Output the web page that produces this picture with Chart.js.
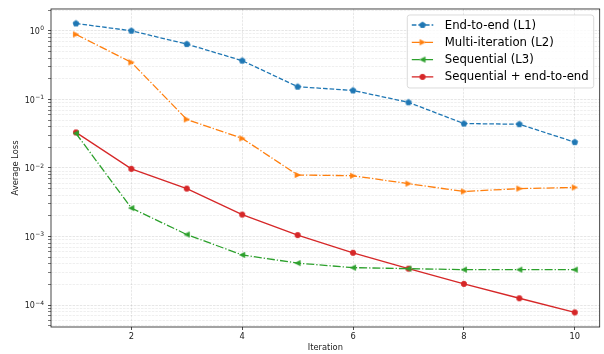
<!DOCTYPE html>
<html lang="en">
<head>
    <meta charset="UTF-8">
    <title>Average Loss per Iteration</title>
    <script src="https://cdn.jsdelivr.net/npm/chart.js"></script>
    <style>
        html, body { margin: 0; padding: 0; background: #fff; }
        #wrap { width: 604px; height: 354px; }
    </style>
</head>
<body>
<div id="wrap">
    <canvas id="lossChart" width="604" height="354"></canvas>
</div>
<script>
  // values (log y axis)
  const iterations = [1, 2, 3, 4, 5, 6, 7, 8, 9, 10];
  const endToEnd = [1.28, 1.0, 0.64, 0.367, 0.153, 0.135, 0.0905, 0.0444, 0.0434, 0.0238];
  const multiIteration = [0.885, 0.347, 0.051, 0.027, 0.0079, 0.0077, 0.0059, 0.00454, 0.0050, 0.0052];
  const sequential = [0.032, 0.0026, 0.00107, 0.00054, 0.00041, 0.000352, 0.00034, 0.000329, 0.000329, 0.000329];
  const sequentialEndToEnd = [0.033, 0.0097, 0.0050, 0.00209, 0.00105, 0.00058, 0.00034, 0.000204, 0.000126, 0.0000783];

  const seriesLabels = ['End-to-end (L1)', 'Multi-iteration (L2)', 'Sequential (L3)', 'Sequential + end-to-end'];
  const xTicks = [2, 4, 6, 8, 10];

  const FONT = 'DejaVu Sans';
  Chart.defaults.font.family = FONT;
  Chart.defaults.color = '#222';

  function makeMarker(shape, color) {
    const c = document.createElement('canvas');
    c.width = 10; c.height = 10;
    const g = c.getContext('2d');
    g.fillStyle = color;
    g.strokeStyle = color;
    g.lineWidth = 0.8;
    g.translate(5, 5);
    g.beginPath();
    if (shape === 'circle') {
      g.arc(0, 0, 2.7, 0, Math.PI * 2);
    } else if (shape === 'pentagon') {
      for (let i = 0; i < 5; i++) {
        const a = -Math.PI / 2 + i * 2 * Math.PI / 5;
        const px = 3.1 * Math.cos(a), py = 3.1 * Math.sin(a);
        if (i === 0) g.moveTo(px, py); else g.lineTo(px, py);
      }
    } else if (shape === 'right') {
      g.moveTo(2.6, 0); g.lineTo(-2.6, -2.6); g.lineTo(-2.6, 2.6);
    } else if (shape === 'left') {
      g.moveTo(-2.6, 0); g.lineTo(2.6, -2.6); g.lineTo(2.6, 2.6);
    }
    g.closePath();
    g.fill();
    g.stroke();
    return c;
  }

  function pts(values) {
    return iterations.map((x, i) => ({ x: x, y: values[i] }));
  }

  const blue = '#1f77b4', orange = '#ff7f0e', green = '#2ca02c', red = '#d62728';
  const dashed = [4.6, 2.0];
  const dashDot = [8, 2, 1.25, 2];

  const datasets = [
    { label: seriesLabels[0], data: pts(endToEnd), borderColor: blue, borderDash: dashed, pointStyle: makeMarker('pentagon', blue) },
    { label: seriesLabels[1], data: pts(multiIteration), borderColor: orange, borderDash: dashDot, pointStyle: makeMarker('right', orange) },
    { label: seriesLabels[2], data: pts(sequential), borderColor: green, borderDash: dashDot, pointStyle: makeMarker('left', green) },
    { label: seriesLabels[3], data: pts(sequentialEndToEnd), borderColor: red, borderDash: [], pointStyle: makeMarker('circle', red) }
  ].map(d => Object.assign(d, {
    borderWidth: 1.3,
    tension: 0,
    fill: false,
    pointRadius: 3,
    pointHoverRadius: 3
  }));

  function isDecade(v) {
    const l = Math.log10(v);
    return Math.abs(l - Math.round(l)) < 1e-9;
  }

  // box round the plot, like matplotlib spines
  const frame = {
    id: 'frame',
    afterDatasetsDraw(chart) {
      const { ctx, chartArea: a } = chart;
      ctx.save();
      ctx.strokeStyle = '#1a1a1a';
      ctx.lineWidth = 0.8;
      ctx.strokeRect(a.left, a.top, a.right - a.left, a.bottom - a.top);
      ctx.restore();
    }
  };

  // 10^k tick labels with a raised exponent, placed by the y scale
  const powerLabels = {
    id: 'powerLabels',
    afterDraw(chart) {
      const { ctx } = chart;
      const s = chart.scales.y;
      ctx.save();
      ctx.fillStyle = '#222';
      ctx.textBaseline = 'alphabetic';
      ctx.textAlign = 'left';
      s.ticks.forEach(t => {
        if (!isDecade(t.value)) return;
        const y = s.getPixelForValue(t.value);
        const exp = String(Math.round(Math.log10(t.value))).replace('-', '\u2212');
        ctx.font = '6px "' + FONT + '"';
        const ew = ctx.measureText(exp).width;
        ctx.font = '8px "' + FONT + '"';
        const bw = ctx.measureText('10').width;
        const xr = s.right - 3 - 4;
        ctx.fillText('10', xr - ew - bw - 0.3, y + 3.2);
        ctx.font = '6px "' + FONT + '"';
        ctx.fillText(exp, xr - ew, y - 0.4);
      });
      ctx.restore();
    }
  };

  // legend drawn in the upper right of the plot area
  const legendBox = {
    id: 'legendBox',
    afterDraw(chart) {
      const { ctx, chartArea: a } = chart;
      const fs = 11.7;
      ctx.save();
      ctx.font = fs + 'px "' + FONT + '"';
      let maxW = 0;
      chart.data.datasets.forEach(d => { maxW = Math.max(maxW, ctx.measureText(d.label).width); });
      const boxW = 4.5 + 21.5 + 11.5 + maxW + 5;
      const boxH = 73;
      const right = a.right - 6, top = a.top + 6;
      const left = right - boxW;
      ctx.beginPath();
      ctx.roundRect(left, top, boxW, boxH, 2.5);
      ctx.fillStyle = 'rgba(255,255,255,0.8)';
      ctx.fill();
      ctx.strokeStyle = '#d0d0d0';
      ctx.lineWidth = 0.8;
      ctx.stroke();
      chart.data.datasets.forEach((d, i) => {
        const cy = top + 10 + i * 17.3;
        const x0 = left + 4.5, x1 = x0 + 21.5;
        ctx.beginPath();
        ctx.setLineDash(d.borderDash);
        ctx.strokeStyle = d.borderColor;
        ctx.lineWidth = 1.3;
        ctx.moveTo(x0, cy);
        ctx.lineTo(x1, cy);
        ctx.stroke();
        ctx.setLineDash([]);
        const m = d.pointStyle;
        ctx.drawImage(m, (x0 + x1) / 2 - m.width / 2, cy - m.height / 2);
        ctx.fillStyle = '#000';
        ctx.textBaseline = 'middle';
        ctx.textAlign = 'left';
        ctx.fillText(d.label, x1 + 11.5, cy + 0.5);
      });
      ctx.restore();
    }
  };

  const ctx = document.getElementById('lossChart').getContext('2d');
  const lossChart = new Chart(ctx, {
    type: 'line',
    data: { datasets: datasets },
    plugins: [frame, powerLabels, legendBox],
    options: {
      responsive: false,
      animation: false,
      devicePixelRatio: 1,
      layout: { padding: { left: 0, right: 3, top: 7, bottom: 0 } },
      plugins: {
        legend: { display: false },
        tooltip: { enabled: false }
      },
      scales: {
        x: {
          type: 'linear',
          min: 0.55,
          max: 10.45,
          afterBuildTicks: scale => { scale.ticks = xTicks.map(v => ({ value: v })); },
          afterFit: scale => { scale.height = 27; },
          ticks: {
            font: { size: 8.3 },
            color: '#222',
            padding: 2,
            maxRotation: 0,
            autoSkip: false,
            callback: v => String(v)
          },
          grid: {
            color: 'rgba(0,0,0,0.13)',
            lineWidth: 0.7,
            tickLength: 3,
            tickColor: '#222',
            tickWidth: 0.8
          },
          border: { display: false, dash: [2.5, 1.1] },
          title: {
            display: true,
            text: 'Iteration',
            font: { size: 8.3 },
            color: '#222',
            padding: { top: 0, bottom: 1 }
          }
        },
        y: {
          type: 'logarithmic',
          min: 4.8e-5,
          max: 2.08,
          afterBuildTicks: scale => {
            const t = [];
            for (let k = -5; k <= 0; k++) {
              for (let m = 1; m <= 9; m++) {
                const v = m * Math.pow(10, k);
                if (v >= scale.min && v <= scale.max) t.push({ value: v, major: m === 1 });
              }
            }
            scale.ticks = t;
          },
          afterFit: scale => { scale.width = 51; },
          ticks: {
            font: { size: 8.3 },
            padding: 4,
            autoSkip: false,
            callback: () => ''
          },
          grid: {
            color: c => (c.tick && isDecade(c.tick.value)) ? 'rgba(0,0,0,0.14)' : 'rgba(0,0,0,0.09)',
            lineWidth: 0.7,
            tickLength: 3,
            tickColor: '#222',
            tickWidth: c => (c.tick && isDecade(c.tick.value)) ? 0.8 : 0.6
          },
          border: { display: false, dash: [2.5, 1.1] },
          title: {
            display: true,
            text: 'Average Loss',
            font: { size: 8.3 },
            color: '#222',
            padding: { top: 11, bottom: 0 }
          }
        }
      }
    }
  });
</script>
</body>
</html>
